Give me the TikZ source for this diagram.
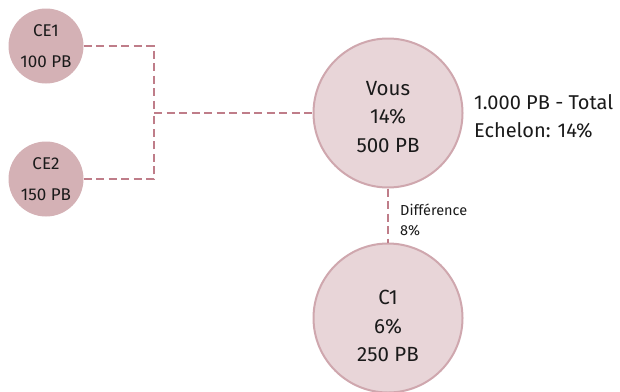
\documentclass[tikz,border=0pt]{standalone}
\usepackage{fontspec}
\setmainfont{Fira Sans}
\definecolor{cefill}{HTML}{D4B1B5}
\definecolor{bigfill}{HTML}{E8D5D8}
\definecolor{bigdraw}{HTML}{CFA7AE}
\definecolor{conn}{HTML}{BF7D89}
\definecolor{txt}{HTML}{1A1A1A}
\begin{document}
\begin{tikzpicture}[x=1pt,y=-1pt,
  small/.style={circle,fill=cefill,minimum size=75pt,inner sep=0pt,align=center,text=txt,font=\fontsize{17}{31}\selectfont},
  big/.style={circle,fill=bigfill,draw=bigdraw,line width=2pt,minimum size=149pt,inner sep=0pt},
  bigtxt/.style={align=center,inner sep=0pt,text=txt,font=\fontsize{20.5}{28.5}\selectfont},
  connline/.style={draw=conn,line width=2.6pt,dash pattern=on 8pt off 4.5pt},
  lbl/.style={anchor=west,inner sep=0pt,align=left,text=txt}]
\useasboundingbox (0,0) rectangle (620,391);
\node[small] (CE1) at (46,46) {CE1\\100 PB};
\node[small] (CE2) at (46,179) {CE2\\150 PB};
\node[big] (Vous) at (388,113) {};
\node[big] (C1) at (388,318) {};
\node[bigtxt] (voustxt) at ([yshift=-4pt]Vous.center) {Vous\\14\%\\500 PB};
\node[bigtxt] (c1txt) at ([yshift=-8pt]C1.center) {C1\\6\%\\250 PB};
\coordinate (jm) at (154,113);
\draw[connline] (CE1.east) -| (jm);
\draw[connline] (CE2.east) -| (jm);
\draw[connline] (jm) -- (Vous.west);
\draw[connline] (Vous.south) -- (C1.north);
\node[lbl,font=\fontsize{20}{28}\selectfont] (tot) at (474,116) {1.000 PB - Total\\Echelon: 14\%};
\node[lbl,font=\fontsize{14.5}{20}\selectfont] (diff) at (400,220) {Différence\\8\%};
\end{tikzpicture}
\end{document}
